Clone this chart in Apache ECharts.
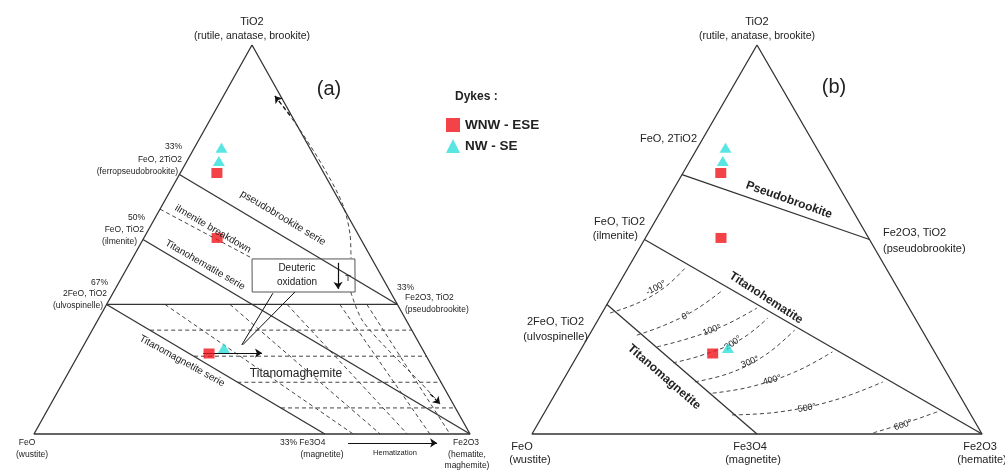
<!DOCTYPE html>
<html lang="en">
<head>
<meta charset="UTF-8">
<title>TiO2 - FeO - Fe2O3</title>
<script src="https://cdn.jsdelivr.net/npm/echarts@6/dist/echarts.min.js"></script>
<style>
  html, body { margin: 0; padding: 0; background: #fff; }
  #chart { width: 1005px; height: 470px; }
</style>
</head>
<body>
<div id="chart"></div>
<script>
// every point is [TiO2, Fe2O3] fraction, FeO is the rest
const dykesWNW = [[0.671, 0.084], [0.504, 0.168], [0.207, 0.298]];
const dykesNW = [[0.736, 0.062], [0.702, 0.073], [0.221, 0.325]];

const triangle = [[1, 0], [0, 0], [0, 1], [1, 0]];

// (a) solid joins
const seriesA = [
    [[0.667, 0], [0.333, 0.667]],   // pseudobrookite serie
    [[0.5, 0], [0, 1]],             // titanohematite serie
    [[0.333, 0], [0, 0.667]],       // titanomagnetite serie
    [[0.333, 0], [0.333, 0.667]]    // 2FeO,TiO2 - Fe2O3,TiO2
];
// (a) dashed guides
const breakdownA = [[0.578, 0], [0.452, 0.274]];
const oxidationA = [
    [[0.267, 0.133], [0.267, 0.733]],
    [[0.2, 0.267], [0.2, 0.8]],
    [[0.133, 0.4], [0.133, 0.867]],
    [[0.067, 0.533], [0.067, 0.933]]
];
const maghemiteA = [
    [[0.333, 0.134], [0, 0.732]],
    [[0.333, 0.283], [0, 0.794]],
    [[0.333, 0.414], [0, 0.856]],
    [[0.333, 0.535], [0, 0.908]],
    [[0.333, 0.597], [0, 0.954]]
];
const coolingUpA = [[0.869, 0.118], [0.781, 0.220], [0.679, 0.328], [0.589, 0.414], [0.512, 0.469], [0.452, 0.501]];
const coolingDownA = [[0.365, 0.544], [0.293, 0.606], [0.211, 0.711], [0.134, 0.818], [0.077, 0.893]];
const boxA = [[0.450, 0.275], [0.450, 0.511], [0.365, 0.554], [0.365, 0.318], [0.450, 0.275]];
const pointersA = [
    [[0.362, 0.367], [0.229, 0.362]],
    [[0.365, 0.416], [0.229, 0.364]]
];
const arrowsA = [
    { from: [0.820, 0.177], to: [0.869, 0.118], dashed: true },
    { from: [0.103, 0.857], to: [0.077, 0.893], dashed: true },
    { from: [0.440, 0.477], to: [0.373, 0.511] },
    { from: [0.208, 0.284], to: [0.208, 0.419] },
    { from: [-0.023, 0.732], to: [-0.023, 0.936] }
];

// (b) solid joins
const seriesB = [
    [[0.667, 0], [0.5, 0.5]],       // pseudobrookite
    [[0.5, 0], [0, 1]],             // titanohematite
    [[0.333, 0], [0, 0.5]]          // titanomagnetite
];
// (b) isotherms
const isoNames = ['-100°', '0°', '100°', '200°', '300°', '400°', '500°', '600°'];
const isotherms = [
    [[0.311, 0.018], [0.339, 0.070], [0.378, 0.107], [0.427, 0.127]],
    [[0.254, 0.106], [0.280, 0.155], [0.319, 0.203], [0.370, 0.239]],
    [[0.224, 0.166], [0.247, 0.228], [0.280, 0.289], [0.324, 0.338]],
    [[0.183, 0.222], [0.201, 0.273], [0.242, 0.341], [0.298, 0.375]],
    [[0.134, 0.295], [0.157, 0.362], [0.203, 0.417], [0.267, 0.450]],
    [[0.105, 0.349], [0.121, 0.424], [0.159, 0.504], [0.211, 0.562]],
    [[0.049, 0.420], [0.057, 0.523], [0.087, 0.629], [0.134, 0.713]],
    [[0.003, 0.757], [0.028, 0.815], [0.057, 0.872]]
];

const INK = '#333';
const FONT = '"Liberation Sans", Arial, sans-serif';

// ternary -> grid units (x along base, y = height)
function proj(p) {
    return [p[1] + p[0] / 2, p[0]];
}

function path(grid, pts, dashed, smooth) {
    return {
        type: 'line', xAxisIndex: grid, yAxisIndex: grid,
        data: pts.map(proj), symbol: 'none', silent: true, clip: false,
        smooth: smooth || false,
        lineStyle: { color: dashed ? '#444' : INK, width: dashed ? 1 : 1.3, type: dashed ? [4, 3] : 'solid' },
        z: dashed ? 2 : 3
    };
}

function dots(grid, name, pts, symbol, color, size) {
    return {
        type: 'scatter', name: name, xAxisIndex: grid, yAxisIndex: grid,
        data: pts.map(proj), symbol: symbol, symbolSize: size,
        itemStyle: { color: color }, z: 6, clip: false, silent: true
    };
}

// arrows go through a lines series so they can reach outside the triangle
function arrowSeries(grid, list) {
    return {
        type: 'lines', coordinateSystem: 'cartesian2d', xAxisIndex: grid, yAxisIndex: grid,
        symbol: ['none', 'arrow'], symbolSize: 7, silent: true, clip: false, z: 4,
        lineStyle: { color: '#111', width: 1.2, opacity: 1 },
        data: list.map(a => ({
            coords: [proj(a.from), proj(a.to)],
            lineStyle: { color: '#111', width: 1.2, type: a.dashed ? [4, 3] : 'solid' }
        }))
    };
}

function label(x, y, text, size, align, deg, extra, z) {
    return {
        type: 'text', x: x, y: y, rotation: (deg || 0) * Math.PI / 180, silent: true, z: z || 10,
        style: Object.assign({
            text: text, font: size + 'px ' + FONT, fill: '#222',
            align: align || 'center', verticalAlign: 'middle'
        }, extra || {})
    };
}

const series = [];
[0, 1].forEach(g => series.push(path(g, triangle, false)));
seriesA.forEach(s => series.push(path(0, s, false)));
series.push(path(0, breakdownA, true));
oxidationA.forEach(s => series.push(path(0, s, true)));
maghemiteA.forEach(s => series.push(path(0, s, true)));
series.push(path(0, coolingUpA, true, 0.3));
series.push(path(0, coolingDownA, true, 0.3));
series.push(Object.assign(path(0, boxA, false), { lineStyle: { color: '#555', width: 1 } }));
pointersA.forEach(s => series.push(Object.assign(path(0, s, false), { lineStyle: { color: '#111', width: 1 } })));
series.push(arrowSeries(0, arrowsA));
seriesB.forEach(s => series.push(path(1, s, false)));
isotherms.forEach(s => series.push(path(1, s, true, 0.4)));
[0, 1].forEach(g => {
    series.push(dots(g, 'WNW - ESE', dykesWNW, 'rect', '#f0141a', [11, 10]));
    series.push(dots(g, 'NW - SE', dykesNW, 'triangle', '#2fe0dc', [12, 10]));
});

const isoLabelPos = [[656, 288, 28], [686, 316, 25], [712, 330, 20], [733, 343, 35], [750, 362, 22], [772, 380, 15], [807, 408, 10], [903, 425, 18]];

const graphic = [
    // (a)
    label(252, 22, 'TiO2', 11),
    label(252, 36, '(rutile, anatase, brookite)', 10.5),
    label(329, 89, '(a)', 20),
    label(182, 147, '33%', 8.5, 'right'),
    label(182, 160, 'FeO, 2TiO2', 8.5, 'right'),
    label(178, 172, '(ferropseudobrookite)', 8.5, 'right'),
    label(145, 218, '50%', 8.5, 'right'),
    label(144, 230, 'FeO, TiO2', 8.5, 'right'),
    label(137, 242, '(ilmenite)', 8.5, 'right'),
    label(108, 283, '67%', 8.5, 'right'),
    label(107, 294, '2FeO, TiO2', 8.5, 'right'),
    label(103, 306, '(ulvospinelle)', 8.5, 'right'),
    label(397, 288, '33%', 8.5, 'left'),
    label(405, 298, 'Fe2O3, TiO2', 8.5, 'left'),
    label(405, 310, '(pseudobrookite)', 8.5, 'left'),
    label(27, 443, 'FeO', 8.5),
    label(32, 455, '(wustite)', 8.5),
    label(280, 443, '33% Fe3O4', 8.5, 'left'),
    label(322, 455, '(magnetite)', 8.5),
    label(395, 453, 'Hematization', 7.5),
    label(466, 443, 'Fe2O3', 8.5),
    label(467, 455, '(hematite,', 8.5),
    label(467, 466, 'maghemite)', 8.5),
    label(283, 218, 'pseudobrookite serie', 10.5, 'center', -31),
    label(213, 229, 'ilmenite breakdown', 10, 'center', -30),
    label(205, 265, 'Titanohematite serie', 10, 'center', -30),
    label(182, 361, 'Titanomagnetite serie', 10, 'center', -29),
    label(296, 374, 'Titanomaghemite', 12),
    label(297, 268, 'Deuteric', 10),
    label(297, 282, 'oxidation', 10),
    label(348, 279, 'T', 9),
    // legend title
    label(455, 97, 'Dykes :', 15, 'left', 0, { fontWeight: 'bold' }),
    // (b)
    label(757, 22, 'TiO2', 11),
    label(757, 36, '(rutile, anatase, brookite)', 10.5),
    label(834, 87, '(b)', 20),
    label(697, 139, 'FeO, 2TiO2', 11, 'right'),
    label(645, 222, 'FeO, TiO2', 11, 'right'),
    label(638, 236, '(ilmenite)', 11, 'right'),
    label(883, 233, 'Fe2O3, TiO2', 11, 'left'),
    label(883, 249, '(pseudobrookite)', 11, 'left'),
    label(584, 322, '2FeO, TiO2', 11, 'right'),
    label(588, 337, '(ulvospinelle)', 11, 'right'),
    label(522, 447, 'FeO', 11),
    label(530, 460, '(wustite)', 11),
    label(750, 447, 'Fe3O4', 11),
    label(753, 460, '(magnetite)', 11),
    label(980, 447, 'Fe2O3', 11),
    label(982, 460, '(hematite)', 11),
    label(789, 200, 'Pseudobrookite', 12.5, 'center', -19.5, { fontWeight: 'bold' }),
    label(766, 298, 'Titanohematite', 12.5, 'center', -33, { fontWeight: 'bold' }),
    label(664, 377, 'Titanomagnetite', 12.5, 'center', -41, { fontWeight: 'bold' })
];
isoNames.forEach((n, i) => {
    const p = isoLabelPos[i];
    graphic.push(label(p[0], p[1], n, 9, 'center', p[2], { backgroundColor: '#fff', padding: [0, 1] }, 1));
});

const chart = echarts.init(document.getElementById('chart'));
chart.setOption({
    animation: false,
    backgroundColor: '#fff',
    grid: [
        { left: 34, top: 45, width: 436, height: 389 },
        { left: 532, top: 45, width: 450, height: 389 }
    ],
    xAxis: [
        { gridIndex: 0, type: 'value', min: 0, max: 1, show: false },
        { gridIndex: 1, type: 'value', min: 0, max: 1, show: false }
    ],
    yAxis: [
        { gridIndex: 0, type: 'value', min: 0, max: 1, show: false },
        { gridIndex: 1, type: 'value', min: 0, max: 1, show: false }
    ],
    legend: {
        data: [{ name: 'WNW - ESE', icon: 'rect' }, { name: 'NW - SE', icon: 'triangle' }],
        orient: 'vertical', left: 441, top: 113,
        itemWidth: 14, itemHeight: 14, itemGap: 7, selectedMode: false,
        textStyle: { fontFamily: FONT, fontSize: 13.5, fontWeight: 'bold', color: '#222' }
    },
    series: series,
    graphic: graphic
});
</script>
</body>
</html>
